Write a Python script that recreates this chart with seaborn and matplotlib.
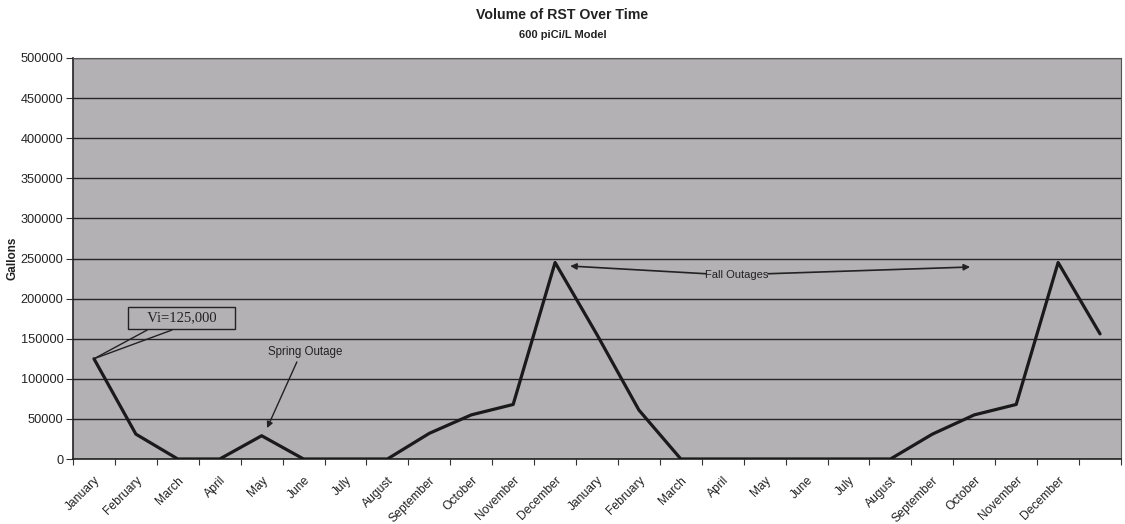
import matplotlib
matplotlib.use("Agg")
import matplotlib.pyplot as plt
import matplotlib.transforms as mtransforms
import seaborn as sns
import pandas as pd
import numpy as np

# Monthly volume of the RST over two years plus one trailing month
months = ["January", "February", "March", "April", "May", "June", "July",
          "August", "September", "October", "November", "December",
          "January", "February", "March", "April", "May", "June", "July",
          "August", "September", "October", "November", "December", ""]
gallons = [125000, 31000, 0, 0, 29000, 0, 0, 0, 32000, 55000, 68000, 245000,
           155000, 61000, 0, 0, 0, 0, 0, 0, 31000, 55000, 68000, 245000, 156000]

df = pd.DataFrame({"step": np.arange(len(gallons)), "gallons": gallons})

sns.set_theme(style="white")
plt.rcParams["font.family"] = ["Liberation Sans", "DejaVu Sans"]

fig = plt.figure(figsize=(11.25, 5.24), dpi=100)
ax = fig.add_axes([73 / 1125, 1 - 459 / 524, (1121 - 73) / 1125, (459 - 58) / 524])
ax.set_facecolor("#b3b1b3")

sns.lineplot(data=df, x="step", y="gallons", ax=ax, color="#1a1a1a",
             linewidth=2.3, zorder=3)

ax.set_xlim(-0.5, len(gallons) - 0.5)
ax.set_ylim(0, 500000)
ax.set_yticks(np.arange(0, 500001, 50000))
ax.set_yticklabels([str(v) for v in range(0, 500001, 50000)], fontsize=9.2,
                   color="#222222")
ax.yaxis.grid(True, color="#262626", linewidth=1.0)
ax.set_axisbelow(True)

# category labels centred, tick marks on the category boundaries
ax.set_xticks(np.arange(len(gallons)))
ax.set_xticklabels(months, rotation=45, ha="right", rotation_mode="anchor",
                   fontsize=8.7, color="#222222")
shift = mtransforms.ScaledTranslation(-7 / 100, 0, fig.dpi_scale_trans)
for lbl in ax.get_xticklabels():
    lbl.set_transform(lbl.get_transform() + shift)
ax.set_xticks(np.arange(-0.5, len(gallons) - 0.4, 1.0), minor=True)
ax.tick_params(axis="x", which="major", length=0, pad=11)
ax.tick_params(axis="x", which="minor", length=4, width=0.8, color="#333333",
               direction="out", bottom=True)
ax.tick_params(axis="y", length=5, width=0.8, color="#333333", direction="out",
               left=True, pad=2)
ax.set_xlabel("")
ax.set_ylabel("Gallons", fontsize=8.5, fontweight="bold", color="#222222")
ax.yaxis.label.set_verticalalignment("center")
ax.yaxis.set_label_coords((12 - 73) / 1048, 0.5)

for side in ["left", "bottom"]:
    ax.spines[side].set_color("#222222")
    ax.spines[side].set_linewidth(1.2)
for side in ["top", "right"]:
    ax.spines[side].set_color("#555555")
    ax.spines[side].set_linewidth(0.8)

fig.text(0.5, 1 - 15 / 524, "Volume of RST Over Time", ha="center",
         va="center", fontsize=10.2, fontweight="bold", color="#222222")
fig.text(0.5, 1 - 35 / 524, "600 piCi/L Model", ha="center", va="center",
         fontsize=8, fontweight="bold", color="#222222")

# callout for the initial volume
ax.text(2.09, 175800, "    Vi=125,000    ", family=["Liberation Serif"],
        fontsize=10.5, ha="center", va="center", color="#222222",
        bbox=dict(boxstyle="square,pad=0.3", facecolor="none",
                  edgecolor="#222222", linewidth=1.0), zorder=4)
for bx in (1.27, 1.86):
    ax.annotate("", xy=(0, gallons[0]), xytext=(bx, 160800),
                arrowprops=dict(arrowstyle="-", color="#222222", lw=1.0,
                                shrinkA=0, shrinkB=0), zorder=4)

# spring outage marker
ax.annotate("", xy=(4.13, 38600), xytext=(4.84, 121000),
            arrowprops=dict(arrowstyle="-|>", color="#222222", lw=1.0,
                            mutation_scale=9, shrinkA=0, shrinkB=0))
ax.text(5.05, 134000, "Spring Outage", fontsize=8.3, ha="center", va="center",
        color="#222222")

# fall outages span
ax.text(15.34, 229400, "Fall Outages", fontsize=8, ha="center", va="center",
        color="#222222", zorder=5)
ax.annotate("", xy=(11.36, 240600), xytext=(14.6, 231000),
            arrowprops=dict(arrowstyle="-|>", color="#222222", lw=1.2,
                            mutation_scale=9, shrinkA=0, shrinkB=0))
ax.annotate("", xy=(20.9, 239400), xytext=(16.08, 231000),
            arrowprops=dict(arrowstyle="-|>", color="#222222", lw=1.2,
                            mutation_scale=9, shrinkA=0, shrinkB=0))

fig.savefig("out.png", dpi=100, facecolor="white")
